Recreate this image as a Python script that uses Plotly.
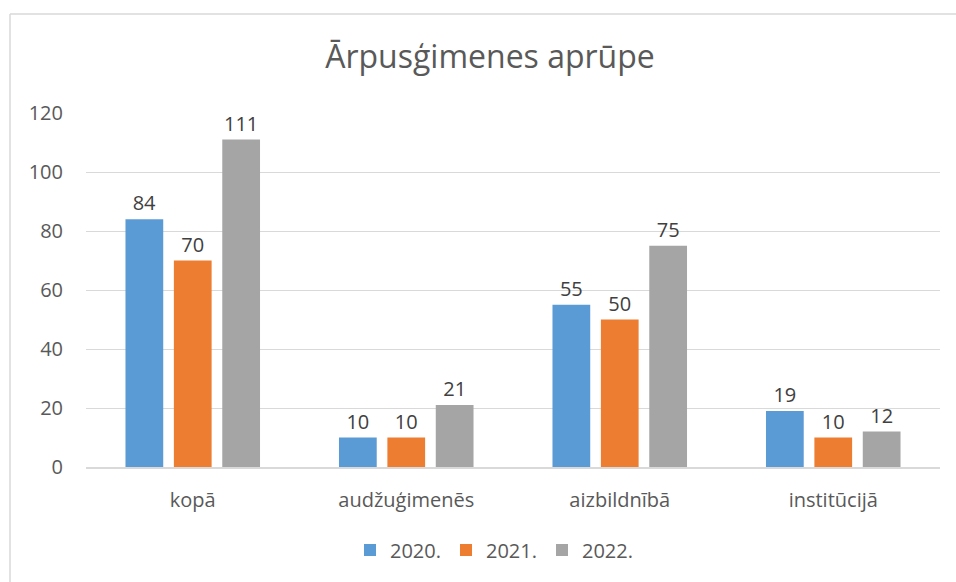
import plotly.graph_objects as go

categories = ["kopā", "audžuģimenēs", "aizbildnībā", "institūcijā"]
series_names = ["2020.", "2021.", "2022."]
v2020 = [84, 10, 55, 19]
v2021 = [70, 10, 50, 10]
v2022 = [111, 21, 75, 12]
colors = ["#5B9BD5", "#ED7D31", "#A5A5A5"]
y_ticks = [0, 20, 40, 60, 80, 100, 120]

FONT = "Open Sans, Liberation Sans, sans-serif"
fig = go.Figure()
for name, vals, col in zip(series_names, [v2020, v2021, v2022], colors):
    fig.add_trace(go.Bar(
        x=categories, y=vals, name=name, marker=dict(color=col, line=dict(width=0)),
        text=[str(v) for v in vals], textposition="outside", cliponaxis=False,
        textfont=dict(family=FONT, size=20, color="#404040"),
    ))

L, R, T, B = 86, 16, 113, 115
W, H = 956, 582
pw = W - L - R
ph = H - T - B

fig.update_layout(
    width=W, height=H,
    margin=dict(l=L, r=R, t=T, b=B),
    paper_bgcolor="white", plot_bgcolor="white",
    barmode="group", bargap=0.32, bargroupgap=0.22,
    title=dict(text="Ārpusģimenes aprūpe", x=490 / W, xanchor="center",
               y=1 - 57 / H, yanchor="middle",
               font=dict(family=FONT, size=32, color="#595959")),
    font=dict(family=FONT, color="#595959"),
    showlegend=True,
    legend=dict(orientation="h", x=(494 - L) / pw, xanchor="center",
                y=-(550 - (T + ph)) / ph, yanchor="middle",
                font=dict(family=FONT, size=20, color="#595959"),
                itemwidth=30, traceorder="normal"),
    xaxis=dict(showgrid=False, showline=True, linecolor="#D9D9D9", linewidth=1.5,
               ticks="", tickfont=dict(family=FONT, size=20, color="#595959"),
               ticklabelstandoff=14),
    yaxis=dict(range=[0, 120], tickvals=y_ticks, showgrid=True, gridcolor="#D9D9D9",
               gridwidth=1.2, zeroline=False, showline=False, ticks="",
               tickfont=dict(family=FONT, size=20, color="#595959"),
               ticklabelstandoff=22),
    shapes=[
        dict(type="line", xref="paper", yref="paper",
             x0=(10 - L) / pw, x1=(960 - L) / pw,
             y0=(H - B - 14) / ph, y1=(H - B - 14) / ph,
             line=dict(color="#D9D9D9", width=1.5)),
        dict(type="line", xref="paper", yref="paper",
             x0=(10 - L) / pw, x1=(10 - L) / pw,
             y0=(H - B - 14) / ph, y1=(H - B - 590) / ph,
             line=dict(color="#D9D9D9", width=1.5)),
    ],
)

fig.write_html("out.html", config={"displayModeBar": False},
               post_script="document.body.style.margin='0';document.body.style.padding='0';")
